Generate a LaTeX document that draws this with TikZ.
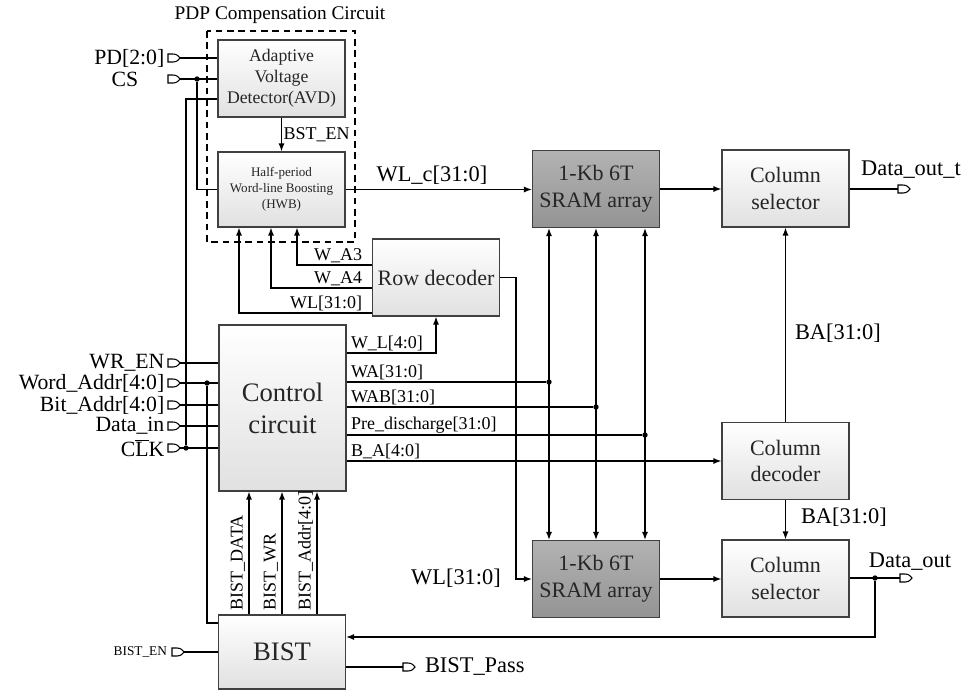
\documentclass[tikz,border=0pt]{standalone}
\usepackage{fontspec}
\setmainfont{Liberation Serif}
\usepackage{tikz}
\usetikzlibrary{arrows.meta}

\begin{document}
\begin{tikzpicture}[x=0.75pt, y=-0.75pt, >={Latex[length=6pt, width=4.5pt]}, line width=1pt,
    blk/.style={draw=black!75, line width=0.8pt, top color=white, bottom color=black!12,
                minimum width=95.25pt, minimum height=57.75pt, inner sep=1pt, align=center,
                text=black!85, font=\fontsize{16.5}{20}\selectfont},
    sram/.style={blk, top color=black!30, bottom color=black!42},
    lbl/.style={inner sep=1pt, font=\fontsize{13.5}{15}\selectfont},
    sig/.style={inner sep=1pt, font=\fontsize{16.8}{19}\selectfont},
    pin/.style={inner sep=0pt, font=\fontsize{16.3}{18}\selectfont},
    dot/.style={circle, fill, inner sep=0pt, minimum size=4pt},
    port/.pic={
        \draw[fill=white, line width=0.8pt] (0,-4) -- (5,-4) .. controls (9,-4) and (11,-1.5) .. (12,0)
            .. controls (11,1.5) and (9,4) .. (5,4) -- (0,4) -- cycle;
        \coordinate (-in) at (0,0);
        \coordinate (-out) at (12,0);
    }]
    \useasboundingbox (0,0) rectangle (966,690);

    % --- LAYER 1: PDP COMPENSATION FRAME ---
    \draw[line width=1pt, dash pattern=on 5pt off 3.5pt] (207,31) rectangle (355,242);
    \node[inner sep=1pt, font=\fontsize{14.5}{17}\selectfont] (title) at (280,15) {PDP Compensation Circuit};

    % --- LAYER 2: BLOCKS ---
    \node[blk, font=\fontsize{13.3}{15.6}\selectfont] (avd) at (281.5,78.5) {Adaptive\\Voltage\\Detector(AVD)};
    \node[blk, minimum height=56.25pt, font=\fontsize{9.8}{12}\selectfont] (hwb) at (281.5,189.5) {Half-period\\Word-line Boosting\\(HWB)};
    \node[sram] (arrT) at (596,189) {1-Kb 6T\\SRAM array};
    \node[blk] (selT) at (785.5,188.5) {Column\\selector};
    \node[blk, font=\fontsize{16.5}{19}\selectfont] (rowdec) at (436,277.5) {Row decoder};
    \node[blk, minimum height=124.5pt, font=\fontsize{20}{24}\selectfont] (ctrl) at (282.5,408) {Control\\circuit};
    \node[blk] (coldec) at (785.5,461) {Column\\decoder};
    \node[sram] (arrB) at (596,579) {1-Kb 6T\\SRAM array};
    \node[blk] (selB) at (785.5,578.5) {Column\\selector};
    \node[blk, minimum height=55.5pt, font=\fontsize{20}{24}\selectfont] (bist) at (282,652) {BIST};

    % --- LAYER 3: INPUT PINS ---
    \pic (pd) at (168,58) {port};
    \node[pin, anchor=east] (lpd) at (165,58) {PD[2:0]};
    \draw (pd-out) -- (avd.west |- pd-out);
    \pic (cs) at (168,79) {port};
    \node[pin] (lcs) at (125,79) {CS};
    \node[dot] (csj) at (197,79) {};
    \draw (cs-out) -- (avd.west |- cs-out);
    \draw (csj) |- (hwb.west);

    \foreach \nm/\yy/\txt in {wr/363/WR\_EN, wad/383/Word\_Addr[4:0], bad/405/Bit\_Addr[4:0],
                              din/426/Data\_in, clk/448/{C$\overline{\hbox{L}}$K}} {
        \pic (\nm) at (168,\yy) {port};
        \node[pin, anchor=east] (l\nm) at (165,\yy) {\txt};
        \draw (\nm-out) -- (ctrl.west |- \nm-out);
    }
    \node[dot] (clkj) at (186,448) {};
    \draw (clkj) |- (avd.west |- 0,99); % clock also feeds the AVD
    \node[dot] (wadj) at (207,383) {};
    \draw (wadj) |- (bist.west |- 0,623);

    \pic (be) at (172,652) {port};
    \node[inner sep=1pt, anchor=east, font=\fontsize{10}{12}\selectfont] (lbe) at (169,652) {BIST\_EN};
    \draw (be-out) -- (bist.west);

    % --- LAYER 4: PDP PATH ---
    \draw[->] (avd.south) -- node[lbl, right] (lbst) {BST\_EN} (hwb.north);
    \draw[->] (hwb.east) -- (arrT.west |- hwb.east);
    \node[sig] (lwlc) at (432,175) {WL\_c[31:0]};
    \foreach \xx/\yy/\txt in {297/265/W\_A3, 271/288/W\_A4, 239/313/WL[31:0]} {
        \draw[->] (rowdec.west |- 0,\yy) -| (hwb.south -| \xx,0);
        \node[lbl, anchor=south east] (lrow\xx) at (364,\yy) {\txt};
    }

    % --- LAYER 5: CONTROL OUTPUTS ---
    \draw[->] (ctrl.east |- 0,353) -| (rowdec.south);
    \node[lbl, anchor=south west] (lwl) at (349,353) {W\_L[4:0]};
    \node[dot] (waj) at (549,382) {};
    \node[dot] (wabj) at (596,407) {};
    \node[dot] (prej) at (645,435) {};
    \draw (ctrl.east |- waj) -- (waj);
    \node[lbl, anchor=south west] (lwa) at (349,382) {WA[31:0]};
    \draw (ctrl.east |- wabj) -- (wabj);
    \node[lbl, anchor=south west] (lwab) at (349,407) {WAB[31:0]};
    \draw (ctrl.east |- prej) -- (prej);
    \node[lbl, anchor=south west] (lpre) at (349,435) {Pre\_discharge[31:0]};
    \draw[->] (ctrl.east |- coldec.west) -- (coldec.west);
    \node[lbl, anchor=south west] (lba) at (349,461) {B\_A[4:0]};
    \foreach \xx in {549,596,645} {
        \draw[<->] (arrT.south -| \xx,0) -- (arrB.north -| \xx,0);
    }

    % --- LAYER 6: ARRAY AND COLUMN PATH ---
    \draw[->] (rowdec.east) -- (516,277.5) |- (arrB.west);
    \node[sig] (lwlb) at (456,578) {WL[31:0]};
    \draw[->] (arrT.east) -- (selT.west |- arrT.east);
    \draw[->] (arrB.east) -- (selB.west |- arrB.east);
    \draw[->] (coldec.north) -- (selT.south);
    \node[sig, anchor=west] (lbat) at (793,333) {BA[31:0]};
    \draw[->] (coldec.south) -- (selB.north);
    \node[sig, anchor=west] (lbab) at (799,517) {BA[31:0]};

    % --- LAYER 7: OUTPUT PINS ---
    \pic (doutt) at (898,189) {port};
    \draw (selT.east |- doutt-in) -- (doutt-in);
    \node[sig] (ldoutt) at (911,170) {Data\_out\_t};
    \pic (dout) at (900,578) {port};
    \node[dot] (doj) at (875,578) {};
    \draw (selB.east |- dout-in) -- (dout-in);
    \node[sig] (ldout) at (910,562) {Data\_out};
    \draw[->] (doj) |- (bist.east |- 0,637); % read-back to BIST

    % --- LAYER 8: BIST ---
    \foreach \xx/\txt in {249/BIST\_DATA, 282/BIST\_WR, 317/BIST\_Addr[4:0]} {
        \draw[->] (bist.north -| \xx,0) -- (ctrl.south -| \xx,0);
        \node[lbl, rotate=90, anchor=south west] (lb\xx) at (\xx-2,612) {\txt};
    }
    \pic (bp) at (403,667) {port};
    \draw (bist.east |- bp-in) -- (bp-in);
    \node[sig, anchor=west] (lbp) at (423,667) {BIST\_Pass};

\end{tikzpicture}
\end{document}
